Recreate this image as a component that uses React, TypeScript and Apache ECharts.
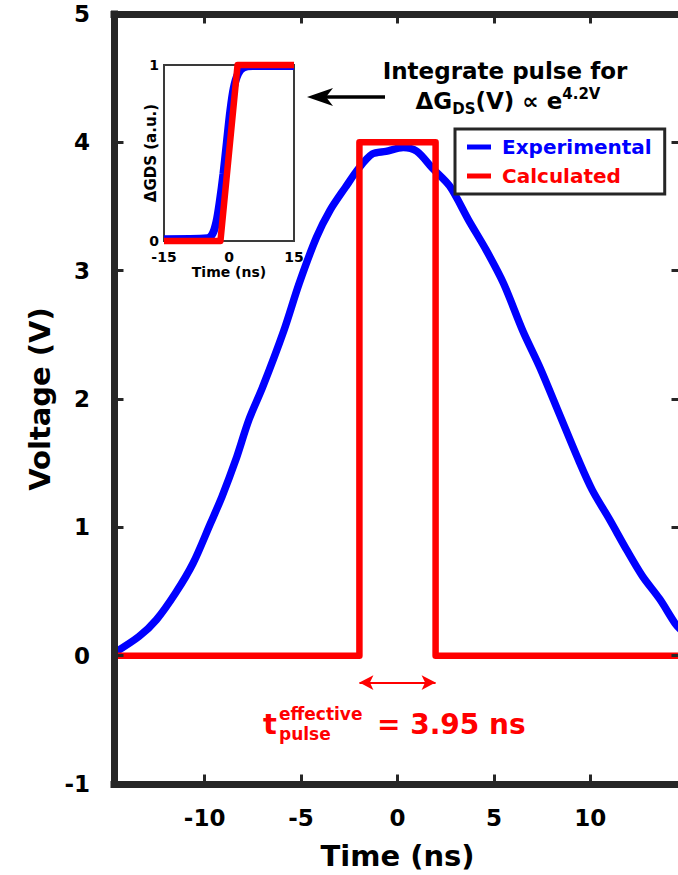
import React, { useEffect, useRef } from "react";
import * as echarts from "echarts";

// Measured gate-voltage pulse (blue) and the equivalent square pulse (red)
const timeNs = [
  -14.7, -13.4, -12.5, -11.5, -10.6, -9.7, -9.1, -8.4, -7.7, -7.0, -5.9, -5.1,
  -4.2, -3.5, -2.7, -2.0, -1.3, -0.6, 0.3, 1.0, 1.8, 2.7, 3.7, 4.6, 5.5, 6.5,
  7.4, 8.4, 9.4, 10.1, 11.0, 11.9, 12.7, 13.6, 14.4, 14.7,
];
const voltageExp = [
  0.02, 0.15, 0.28, 0.49, 0.72, 1.03, 1.24, 1.52, 1.84, 2.09, 2.53, 2.9, 3.26,
  3.47, 3.65, 3.8, 3.91, 3.93, 3.96, 3.93, 3.8, 3.66, 3.39, 3.16, 2.9, 2.53,
  2.24, 1.88, 1.52, 1.29, 1.06, 0.82, 0.62, 0.44, 0.25, 0.2,
];

// Effective width of the calculated square pulse (ns) and its amplitude (V)
const effectiveWidth = 3.95;
const pulseAmplitude = 4;
const pulseTime = [-14.7, -effectiveWidth / 2, -effectiveWidth / 2, effectiveWidth / 2, effectiveWidth / 2, 14.7];
const pulseVoltage = [0, 0, pulseAmplitude, pulseAmplitude, 0, 0];

// Inset: normalised conductance change during the pulse
const insetTime = [-15, -5.0, -3.8, -2.9, -2.1, -1.3, -0.5, 0.3, 1.1, 2.1, 3.3, 5.5, 15];
const insetExp = [0.01, 0.015, 0.04, 0.11, 0.23, 0.38, 0.56, 0.74, 0.87, 0.95, 0.985, 0.994, 0.994];
const insetCalcTime = [-15, -effectiveWidth / 2, effectiveWidth / 2, 15];
const insetCalc = [0, 0, 1, 1];

// Tick positions
const xTicks = [-10, -5, 0, 5, 10];
const yInnerTicks = [0, 1, 2, 3, 4];
const insetXTicks = [-15, 0, 15];
const insetYTicks = [0, 1];

const FONT = '"DejaVu Sans", Verdana, sans-serif';
const AXIS = "#262626";
const BLUE = "#0000ff";
const RED = "#ff0000";

const zip = (xs: number[], ys: number[]) => xs.map((x, i) => [x, ys[i]]);

export default function App() {
  const ref = useRef<HTMLDivElement>(null);

  useEffect(() => {
    document.body.style.margin = "0";
    if (!ref.current) return;
    const chart = echarts.init(ref.current, undefined, { renderer: "svg" });

    const frameLine = { show: true, onZero: false, lineStyle: { color: AXIS, width: 7, cap: "square" } };
    const innerTick = (values: number[]) => ({
      show: true,
      inside: true,
      length: 9.5,
      customValues: values,
      lineStyle: { color: AXIS, width: 3 },
    });
    const tickFont = { color: "#000", fontSize: 23, fontWeight: "bold", fontFamily: FONT };
    const nameFont = { color: "#000", fontSize: 29, fontWeight: "bold", fontFamily: FONT };
    const insetFont = { color: "#000", fontSize: 14, fontWeight: "bold", fontFamily: FONT };

    const xMin = -14.7;
    const xMax = 14.7;

    chart.setOption({
      animation: false,
      backgroundColor: "#fff",
      grid: [
        { left: 114, right: -3, top: 14, bottom: 91, outerBoundsMode: "none" },
        {
          left: 164,
          top: 65,
          width: 130,
          height: 176,
          show: true,
          backgroundColor: "#fff",
          borderColor: "#3a3a3a",
          borderWidth: 2,
          outerBoundsMode: "none",
        },
      ],
      xAxis: [
        {
          gridIndex: 0,
          type: "value",
          position: "bottom",
          min: xMin,
          max: xMax,
          z: 5,
          axisLine: frameLine,
          axisTick: innerTick(xTicks),
          axisLabel: { ...tickFont, customValues: xTicks, margin: 22 },
          splitLine: { show: false },
          name: "Time (ns)",
          nameLocation: "middle",
          nameGap: 57,
          nameMoveOverlap: false,
          nameTextStyle: nameFont,
        },
        {
          gridIndex: 0,
          type: "value",
          position: "top",
          min: xMin,
          max: xMax,
          z: 5,
          axisLine: frameLine,
          axisTick: innerTick(xTicks),
          axisLabel: { show: false },
          splitLine: { show: false },
        },
        {
          gridIndex: 1,
          type: "value",
          min: -15,
          max: 15,
          axisLine: { show: false },
          axisTick: { show: false },
          axisLabel: { ...insetFont, customValues: insetXTicks, margin: 9, lineHeight: 13 },
          splitLine: { show: false },
          name: "Time (ns)",
          nameLocation: "middle",
          nameGap: 24,
          nameMoveOverlap: false,
          nameTextStyle: insetFont,
        },
      ],
      yAxis: [
        {
          gridIndex: 0,
          type: "value",
          position: "left",
          min: -1,
          max: 5,
          interval: 1,
          z: 5,
          axisLine: frameLine,
          axisTick: innerTick(yInnerTicks),
          axisLabel: { ...tickFont, margin: 24 },
          splitLine: { show: false },
          name: "Voltage (V)",
          nameLocation: "middle",
          nameRotate: 90,
          nameGap: 60,
          nameMoveOverlap: false,
          nameTextStyle: nameFont,
        },
        {
          gridIndex: 0,
          type: "value",
          position: "right",
          min: -1,
          max: 5,
          interval: 1,
          z: 5,
          axisLine: frameLine,
          axisTick: innerTick(yInnerTicks),
          axisLabel: { show: false },
          splitLine: { show: false },
        },
        {
          gridIndex: 1,
          type: "value",
          min: 0,
          max: 1,
          axisLine: { show: false },
          axisTick: { show: false },
          axisLabel: { ...insetFont, customValues: insetYTicks, margin: 5, lineHeight: 10 },
          splitLine: { show: false },
          name: "ΔGDS (a.u.)",
          nameLocation: "middle",
          nameRotate: 90,
          nameGap: 6,
          nameMoveOverlap: false,
          nameTextStyle: { ...insetFont, fontSize: 15 },
        },
      ],
      legend: {
        orient: "vertical",
        left: 455,
        top: 129,
        data: [
          { name: "Experimental", textStyle: { color: BLUE } },
          { name: "Calculated", textStyle: { color: RED } },
        ],
        icon: "rect",
        itemWidth: 24,
        itemHeight: 5,
        itemGap: 9,
        padding: [8, 13, 8, 12],
        borderColor: AXIS,
        borderWidth: 3,
        backgroundColor: "#fff",
        selectedMode: false,
        textStyle: { fontSize: 20, fontWeight: "bold", fontFamily: FONT, padding: [0, 0, 0, 6] },
      },
      series: [
        {
          name: "Experimental",
          type: "line",
          xAxisIndex: 0,
          yAxisIndex: 0,
          data: zip(timeNs, voltageExp),
          showSymbol: false,
          smooth: 0.3,
          lineStyle: { color: BLUE, width: 7.5, join: "round" },
          itemStyle: { color: BLUE },
          z: 2,
        },
        {
          name: "Calculated",
          type: "line",
          xAxisIndex: 0,
          yAxisIndex: 0,
          data: zip(pulseTime, pulseVoltage),
          showSymbol: false,
          lineStyle: { color: RED, width: 6.5, join: "round" },
          itemStyle: { color: RED },
          z: 3,
          markLine: {
            silent: true,
            symbol: ["arrow", "arrow"],
            symbolSize: [11, 14],
            label: { show: false },
            lineStyle: { color: RED, width: 2, type: "solid" },
            data: [
              [
                { coord: [-effectiveWidth / 2, -0.21] },
                { coord: [effectiveWidth / 2, -0.21] },
              ],
            ],
          },
        },
        {
          name: "ΔGDS experimental",
          type: "line",
          xAxisIndex: 2,
          yAxisIndex: 2,
          data: zip(insetTime, insetExp),
          showSymbol: false,
          smooth: 0.3,
          clip: false,
          lineStyle: { color: BLUE, width: 8 },
          z: 2,
        },
        {
          name: "ΔGDS calculated",
          type: "line",
          xAxisIndex: 2,
          yAxisIndex: 2,
          data: zip(insetCalcTime, insetCalc),
          showSymbol: false,
          clip: false,
          lineStyle: { color: RED, width: 6.5, join: "round" },
          z: 3,
        },
      ],
      graphic: [
        {
          type: "text",
          z: 10,
          style: {
            text: "Integrate pulse for",
            x: 505,
            y: 71,
            align: "center",
            verticalAlign: "middle",
            fill: "#000",
            fontSize: 23,
            fontWeight: "bold",
            fontFamily: FONT,
          },
        },
        {
          type: "text",
          z: 10,
          style: {
            text: "{m|ΔG}{sub|DS}{m|(V) ∝ e}{sup|4.2V}",
            x: 508,
            y: 101,
            align: "center",
            verticalAlign: "middle",
            fill: "#000",
            fontFamily: FONT,
            fontWeight: "bold",
            rich: {
              m: { fontSize: 23, fontWeight: "bold", fontFamily: FONT, fill: "#000", lineHeight: 30 },
              sub: { fontSize: 15, fontWeight: "bold", fontFamily: FONT, fill: "#000", lineHeight: 16, verticalAlign: "bottom" },
              sup: { fontSize: 15, fontWeight: "bold", fontFamily: FONT, fill: "#000", lineHeight: 20, verticalAlign: "top" },
            },
          },
        },
        {
          type: "polyline",
          z: 10,
          shape: { points: [[324, 97], [385, 97]] },
          style: { stroke: "#000", lineWidth: 3.5, fill: null },
        },
        {
          type: "polygon",
          z: 10,
          shape: { points: [[307, 97], [333, 88], [326, 97], [333, 106]] },
          style: { fill: "#000" },
        },
        {
          type: "text",
          z: 10,
          style: {
            text: "t",
            x: 263,
            y: 724,
            align: "left",
            verticalAlign: "middle",
            fill: RED,
            fontSize: 29,
            fontWeight: "bold",
            fontFamily: FONT,
          },
        },
        {
          type: "text",
          z: 10,
          style: {
            text: "effective",
            x: 279,
            y: 714,
            align: "left",
            verticalAlign: "middle",
            fill: RED,
            fontSize: 17,
            lineHeight: 16,
            fontWeight: "bold",
            fontFamily: FONT,
          },
        },
        {
          type: "text",
          z: 10,
          style: {
            text: "pulse",
            x: 279,
            y: 734,
            align: "left",
            verticalAlign: "middle",
            fill: RED,
            fontSize: 17,
            lineHeight: 16,
            fontWeight: "bold",
            fontFamily: FONT,
          },
        },
        {
          type: "text",
          z: 10,
          style: {
            text: `= ${effectiveWidth.toFixed(2)} ns`,
            x: 377,
            y: 724,
            align: "left",
            verticalAlign: "middle",
            fill: RED,
            fontSize: 28,
            fontWeight: "bold",
            fontFamily: FONT,
          },
        },
      ],
    });

    return () => chart.dispose();
  }, []);

  return (
    <div
      ref={ref}
      style={{ position: "fixed", left: 0, top: 0, width: 678, height: 875 }}
    />
  );
}
